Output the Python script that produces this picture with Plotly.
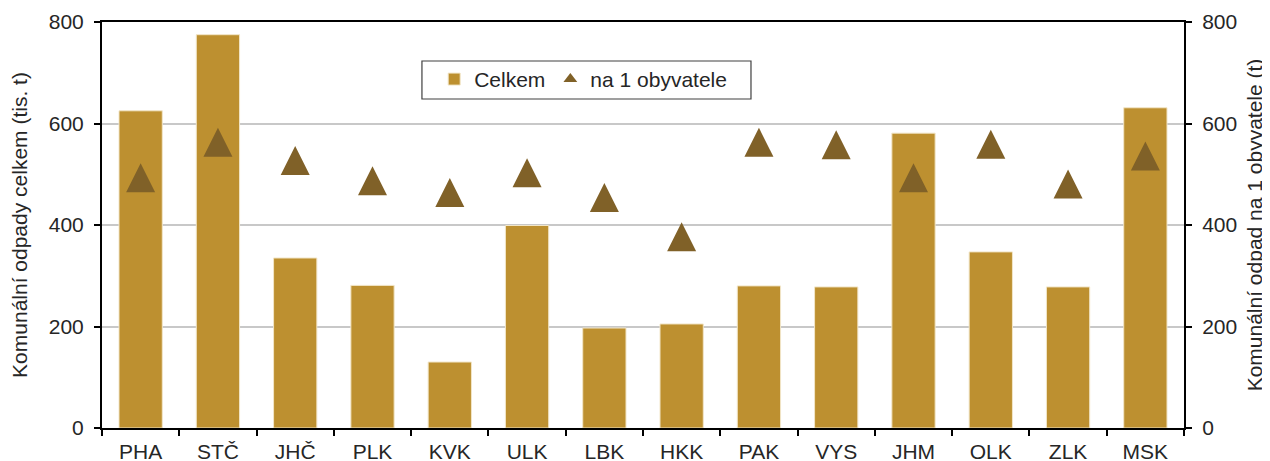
import plotly.graph_objects as go

regions = ["PHA", "STČ", "JHČ", "PLK", "KVK", "ULK", "LBK", "HKK", "PAK", "VYS", "JHM", "OLK", "ZLK", "MSK"]
celkem = [625, 775, 335, 281, 130, 399, 197, 205, 280, 278, 581, 347, 278, 631]
na_obyvatele = [493, 563, 527, 487, 464, 503, 454, 377, 563, 558, 493, 559, 481, 536]
y_ticks = [0, 200, 400, 600, 800]

bar_color = "#BD9030"
tri_color = "#806128"
txt = "#262626"
font_family = "Liberation Sans, Arial, sans-serif"
fs = 21

# marker geometry: "arrow-up" has its tip at the data point; shift its axis
# by half the marker height so the marker is centred on the value
tri_size = 29
plot_h = 406
y_max = 800
half_shift = (tri_size / 2) * y_max / plot_h

fig = go.Figure()
fig.add_trace(go.Bar(
    x=regions, y=celkem, name="Celkem",
    marker=dict(color=bar_color, line=dict(color="#F2E6C8", width=1)),
    yaxis="y",
))
fig.add_trace(go.Scatter(
    x=regions, y=na_obyvatele, name="na 1 obyvatele", mode="markers",
    marker=dict(symbol="arrow-up", size=tri_size, color=tri_color, line=dict(width=0)),
    yaxis="y3", showlegend=False, legendgroup="obyv",
))
# legend-only entry (smaller symbol, no data drawn)
fig.add_trace(go.Scatter(
    x=[regions[0]], y=[None], name="na 1 obyvatele", mode="markers",
    marker=dict(symbol="triangle-up", size=12, color=tri_color),
    yaxis="y2", showlegend=True, legendgroup="obyv",
))

# legend frame
fig.add_shape(
    type="rect", xref="paper", yref="paper",
    x0=0.2957, x1=0.5998, y0=0.8103, y1=0.904,
    line=dict(color="#404040", width=1.2), fillcolor="rgba(0,0,0,0)", layer="above",
)

fig.update_layout(
    width=1262, height=453,
    margin=dict(l=94, r=86, t=14, b=33, autoexpand=False),
    plot_bgcolor="white", paper_bgcolor="white",
    font=dict(family=font_family, size=fs, color=txt),
    bargap=0.44,
    showlegend=True,
    legend=dict(
        orientation="h", x=0.307, y=0.909, xanchor="left", yanchor="top",
        bgcolor="rgba(0,0,0,0)", borderwidth=0,
        font=dict(size=fs, color=txt), itemwidth=30,
    ),
    xaxis=dict(
        type="category", categoryorder="array", categoryarray=regions,
        range=[-0.5, len(regions) - 0.5],
        showline=True, linecolor="black", linewidth=2, mirror=True,
        ticks="outside", ticklen=6, tickwidth=2, tickcolor="black", tickson="boundaries",
        showgrid=False, tickfont=dict(size=fs, color=txt), automargin=False,
        ticklabelstandoff=4,
    ),
    yaxis=dict(
        range=[0, y_max], tickvals=y_ticks, showline=True, linecolor="black", linewidth=2,
        ticks="outside", ticklen=6, tickwidth=2, tickcolor="black",
        showgrid=True, gridcolor="#C8C8C8", gridwidth=1.5, zeroline=False,
        ticklabelstandoff=6,
        title=dict(text="Komunální odpady celkem (tis. t)", font=dict(size=fs, color=txt), standoff=18),
        automargin=False,
    ),
    yaxis2=dict(
        range=[0, y_max], tickvals=y_ticks, overlaying="y", side="right",
        showline=True, linecolor="black", linewidth=2,
        ticks="outside", ticklen=6, tickwidth=2, tickcolor="black",
        showgrid=False, zeroline=False,
        ticklabelstandoff=6,
        title=dict(text="Komunální odpad na 1 obyvatele (t)", font=dict(size=fs, color=txt), standoff=11),
        automargin=False,
    ),
    yaxis3=dict(
        range=[-half_shift, y_max - half_shift], overlaying="y", visible=False,
    ),
)

fig.write_html("out.html")
